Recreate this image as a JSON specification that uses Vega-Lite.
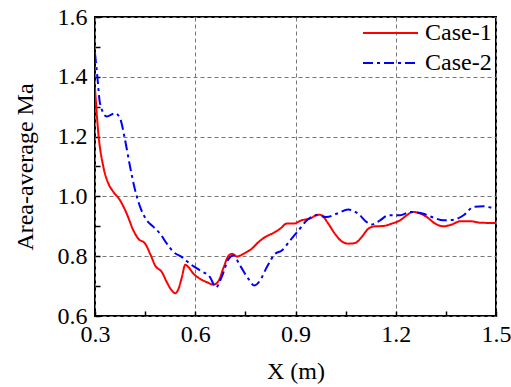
{
  "$schema": "https://vega.github.io/schema/vega-lite/v6.json",
  "width": 401,
  "height": 299,
  "autosize": {"type": "none"},
  "padding": {"left": 95, "top": 17, "right": 15, "bottom": 71},
  "background": "white",
  "config": {
    "font": "Liberation Serif",
    "axis": {"labelFont": "Liberation Serif", "titleFont": "Liberation Serif", "labelFontSize": 24, "titleFontSize": 24},
    "legend": {"labelFont": "Liberation Serif", "labelFontSize": 24},
    "view": {"stroke": "black", "strokeWidth": 2}
  },
  "data": {
    "values": [
      {"x": 0.3, "y": 1.362, "c": "Case-1"},
      {"x": 0.31, "y": 1.211, "c": "Case-1"},
      {"x": 0.325, "y": 1.099, "c": "Case-1"},
      {"x": 0.34, "y": 1.043, "c": "Case-1"},
      {"x": 0.355, "y": 1.015, "c": "Case-1"},
      {"x": 0.375, "y": 0.987, "c": "Case-1"},
      {"x": 0.395, "y": 0.942, "c": "Case-1"},
      {"x": 0.415, "y": 0.886, "c": "Case-1"},
      {"x": 0.43, "y": 0.858, "c": "Case-1"},
      {"x": 0.45, "y": 0.842, "c": "Case-1"},
      {"x": 0.465, "y": 0.808, "c": "Case-1"},
      {"x": 0.48, "y": 0.769, "c": "Case-1"},
      {"x": 0.5, "y": 0.747, "c": "Case-1"},
      {"x": 0.515, "y": 0.713, "c": "Case-1"},
      {"x": 0.53, "y": 0.685, "c": "Case-1"},
      {"x": 0.54, "y": 0.676, "c": "Case-1"},
      {"x": 0.55, "y": 0.691, "c": "Case-1"},
      {"x": 0.56, "y": 0.73, "c": "Case-1"},
      {"x": 0.57, "y": 0.771, "c": "Case-1"},
      {"x": 0.58, "y": 0.763, "c": "Case-1"},
      {"x": 0.595, "y": 0.741, "c": "Case-1"},
      {"x": 0.615, "y": 0.724, "c": "Case-1"},
      {"x": 0.635, "y": 0.713, "c": "Case-1"},
      {"x": 0.655, "y": 0.705, "c": "Case-1"},
      {"x": 0.67, "y": 0.718, "c": "Case-1"},
      {"x": 0.685, "y": 0.763, "c": "Case-1"},
      {"x": 0.7, "y": 0.802, "c": "Case-1"},
      {"x": 0.71, "y": 0.808, "c": "Case-1"},
      {"x": 0.725, "y": 0.799, "c": "Case-1"},
      {"x": 0.744, "y": 0.808, "c": "Case-1"},
      {"x": 0.769, "y": 0.825, "c": "Case-1"},
      {"x": 0.789, "y": 0.847, "c": "Case-1"},
      {"x": 0.809, "y": 0.864, "c": "Case-1"},
      {"x": 0.829, "y": 0.875, "c": "Case-1"},
      {"x": 0.854, "y": 0.892, "c": "Case-1"},
      {"x": 0.874, "y": 0.909, "c": "Case-1"},
      {"x": 0.894, "y": 0.909, "c": "Case-1"},
      {"x": 0.918, "y": 0.92, "c": "Case-1"},
      {"x": 0.943, "y": 0.926, "c": "Case-1"},
      {"x": 0.968, "y": 0.939, "c": "Case-1"},
      {"x": 0.978, "y": 0.937, "c": "Case-1"},
      {"x": 0.998, "y": 0.909, "c": "Case-1"},
      {"x": 1.018, "y": 0.875, "c": "Case-1"},
      {"x": 1.038, "y": 0.85, "c": "Case-1"},
      {"x": 1.058, "y": 0.842, "c": "Case-1"},
      {"x": 1.078, "y": 0.844, "c": "Case-1"},
      {"x": 1.098, "y": 0.864, "c": "Case-1"},
      {"x": 1.118, "y": 0.892, "c": "Case-1"},
      {"x": 1.138, "y": 0.9, "c": "Case-1"},
      {"x": 1.163, "y": 0.901, "c": "Case-1"},
      {"x": 1.188, "y": 0.909, "c": "Case-1"},
      {"x": 1.213, "y": 0.92, "c": "Case-1"},
      {"x": 1.233, "y": 0.937, "c": "Case-1"},
      {"x": 1.251, "y": 0.948, "c": "Case-1"},
      {"x": 1.268, "y": 0.945, "c": "Case-1"},
      {"x": 1.293, "y": 0.931, "c": "Case-1"},
      {"x": 1.318, "y": 0.909, "c": "Case-1"},
      {"x": 1.343, "y": 0.9, "c": "Case-1"},
      {"x": 1.368, "y": 0.906, "c": "Case-1"},
      {"x": 1.393, "y": 0.917, "c": "Case-1"},
      {"x": 1.423, "y": 0.917, "c": "Case-1"},
      {"x": 1.453, "y": 0.912, "c": "Case-1"},
      {"x": 1.5, "y": 0.911, "c": "Case-1"},
      {"x": 0.3, "y": 1.479, "c": "Case-2"},
      {"x": 0.307, "y": 1.401, "c": "Case-2"},
      {"x": 0.315, "y": 1.311, "c": "Case-2"},
      {"x": 0.335, "y": 1.267, "c": "Case-2"},
      {"x": 0.36, "y": 1.278, "c": "Case-2"},
      {"x": 0.375, "y": 1.261, "c": "Case-2"},
      {"x": 0.39, "y": 1.188, "c": "Case-2"},
      {"x": 0.405, "y": 1.099, "c": "Case-2"},
      {"x": 0.42, "y": 1.021, "c": "Case-2"},
      {"x": 0.435, "y": 0.965, "c": "Case-2"},
      {"x": 0.455, "y": 0.92, "c": "Case-2"},
      {"x": 0.475, "y": 0.898, "c": "Case-2"},
      {"x": 0.495, "y": 0.875, "c": "Case-2"},
      {"x": 0.515, "y": 0.842, "c": "Case-2"},
      {"x": 0.535, "y": 0.814, "c": "Case-2"},
      {"x": 0.56, "y": 0.797, "c": "Case-2"},
      {"x": 0.585, "y": 0.774, "c": "Case-2"},
      {"x": 0.615, "y": 0.752, "c": "Case-2"},
      {"x": 0.644, "y": 0.73, "c": "Case-2"},
      {"x": 0.662, "y": 0.696, "c": "Case-2"},
      {"x": 0.679, "y": 0.73, "c": "Case-2"},
      {"x": 0.7, "y": 0.791, "c": "Case-2"},
      {"x": 0.714, "y": 0.802, "c": "Case-2"},
      {"x": 0.734, "y": 0.769, "c": "Case-2"},
      {"x": 0.759, "y": 0.724, "c": "Case-2"},
      {"x": 0.777, "y": 0.702, "c": "Case-2"},
      {"x": 0.794, "y": 0.719, "c": "Case-2"},
      {"x": 0.814, "y": 0.763, "c": "Case-2"},
      {"x": 0.839, "y": 0.808, "c": "Case-2"},
      {"x": 0.859, "y": 0.819, "c": "Case-2"},
      {"x": 0.884, "y": 0.853, "c": "Case-2"},
      {"x": 0.909, "y": 0.886, "c": "Case-2"},
      {"x": 0.934, "y": 0.92, "c": "Case-2"},
      {"x": 0.963, "y": 0.937, "c": "Case-2"},
      {"x": 0.993, "y": 0.931, "c": "Case-2"},
      {"x": 1.023, "y": 0.942, "c": "Case-2"},
      {"x": 1.058, "y": 0.956, "c": "Case-2"},
      {"x": 1.088, "y": 0.942, "c": "Case-2"},
      {"x": 1.113, "y": 0.914, "c": "Case-2"},
      {"x": 1.128, "y": 0.906, "c": "Case-2"},
      {"x": 1.153, "y": 0.92, "c": "Case-2"},
      {"x": 1.178, "y": 0.937, "c": "Case-2"},
      {"x": 1.213, "y": 0.937, "c": "Case-2"},
      {"x": 1.243, "y": 0.948, "c": "Case-2"},
      {"x": 1.283, "y": 0.942, "c": "Case-2"},
      {"x": 1.313, "y": 0.929, "c": "Case-2"},
      {"x": 1.343, "y": 0.92, "c": "Case-2"},
      {"x": 1.373, "y": 0.922, "c": "Case-2"},
      {"x": 1.403, "y": 0.937, "c": "Case-2"},
      {"x": 1.433, "y": 0.965, "c": "Case-2"},
      {"x": 1.463, "y": 0.967, "c": "Case-2"},
      {"x": 1.5, "y": 0.956, "c": "Case-2"}
    ]
  },
  "mark": {"type": "line", "interpolate": "monotone", "strokeWidth": 2, "clip": true},
  "encoding": {
    "x": {
      "field": "x", "type": "quantitative",
      "scale": {"domain": [0.3, 1.5], "nice": false, "zero": false},
      "axis": {
        "title": "X (m)",
        "values": [0.3, 0.45, 0.6, 0.75, 0.9, 1.05, 1.2, 1.35, 1.5],
        "labelExpr": "abs(datum.value/0.3 - round(datum.value/0.3)) > 0.01 ? '' : format(datum.value, '.1f')",
        "labelColor": "black", "labelPadding": 11,
        "labelFlush": false, "labelOverlap": false,
        "titleFontWeight": "normal", "titleColor": "black", "titlePadding": 13,
        "tickSize": -5, "tickColor": "black", "tickWidth": 1.5,
        "domain": false,
        "grid": true, "gridColor": "#777777", "gridDash": [4, 3], "gridWidth": 1,
        "gridOpacity": {"condition": {"test": "abs(datum.value/0.3 - round(datum.value/0.3)) > 0.01", "value": 0}, "value": 1}
      }
    },
    "y": {
      "field": "y", "type": "quantitative",
      "scale": {"domain": [0.6, 1.6], "nice": false, "zero": false},
      "axis": {
        "title": "Area-average Ma",
        "values": [0.6, 0.7, 0.8, 0.9, 1.0, 1.1, 1.2, 1.3, 1.4, 1.5, 1.6],
        "labelExpr": "abs(datum.value/0.2 - round(datum.value/0.2)) > 0.01 ? '' : format(datum.value, '.1f')",
        "labelColor": "black", "labelPadding": 13,
        "labelFlush": false, "labelOverlap": false,
        "titleFontWeight": "normal", "titleColor": "black", "titlePadding": 20,
        "tickSize": -5, "tickColor": "black", "tickWidth": 1.5,
        "domain": false,
        "grid": true, "gridColor": "#777777", "gridDash": [4, 3], "gridWidth": 1,
        "gridOpacity": {"condition": {"test": "abs(datum.value/0.2 - round(datum.value/0.2)) > 0.01", "value": 0}, "value": 1}
      }
    },
    "color": {
      "field": "c", "type": "nominal",
      "scale": {"domain": ["Case-1", "Case-2"], "range": ["#ff0000", "#0000ff"]},
      "legend": {
        "title": null, "orient": "none", "legendX": 267, "legendY": 2,
        "symbolType": "stroke", "symbolSize": 3025, "symbolStrokeWidth": 2,
        "labelColor": "black", "labelOffset": 6,
        "clipHeight": 28, "rowPadding": 2, "padding": 0
      }
    },
    "strokeDash": {
      "field": "c", "type": "nominal",
      "scale": {"domain": ["Case-1", "Case-2"], "range": [[1, 0], [10, 4, 3, 4]]},
      "legend": {
        "title": null, "orient": "none", "legendX": 267, "legendY": 2,
        "symbolType": "stroke", "symbolSize": 3025, "symbolStrokeWidth": 2,
        "labelColor": "black", "labelOffset": 6,
        "clipHeight": 28, "rowPadding": 2, "padding": 0
      }
    }
  }
}
